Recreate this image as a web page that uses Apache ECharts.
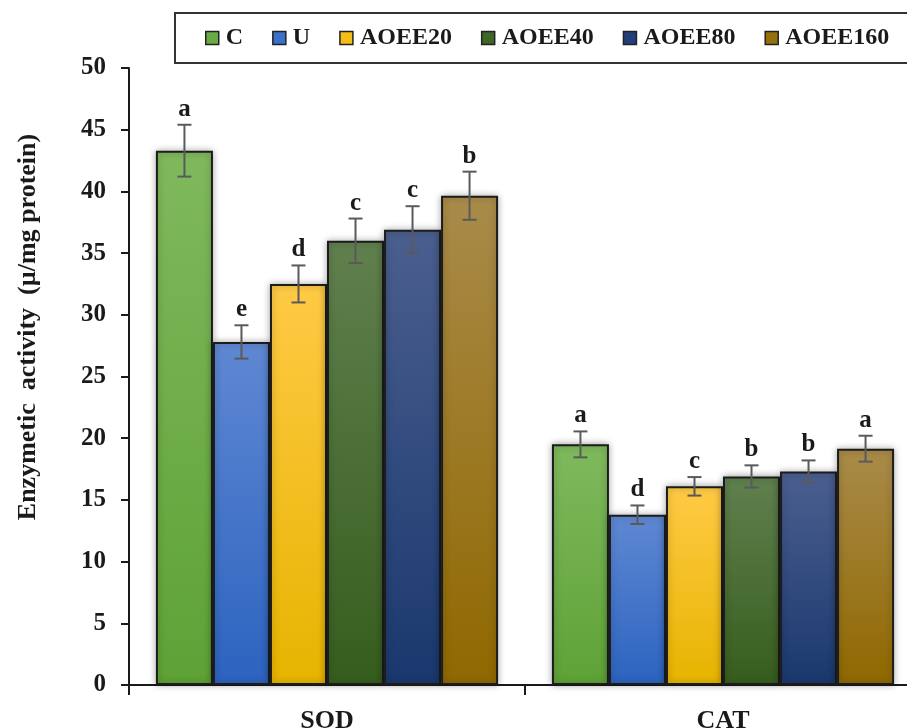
<!DOCTYPE html>
<html>
<head>
<meta charset="utf-8">
<script src="https://cdn.jsdelivr.net/npm/echarts@6/dist/echarts.min.js"></script>
<style>
  html, body { margin: 0; padding: 0; background: #fff; }
  #chart { width: 907px; height: 728px; }
</style>
</head>
<body>
<div id="chart"></div>
<script>
// Enzyme activity per treatment group
const categories = ['SOD', 'CAT'];
const groups = ['C', 'U', 'AOEE20', 'AOEE40', 'AOEE80', 'AOEE160'];
const meanSOD = [43.3, 27.8, 32.5, 36.0, 36.9, 39.65];
const sdSOD = [2.1, 1.35, 1.5, 1.8, 1.9, 1.95];
const meanCAT = [19.5, 13.8, 16.1, 16.9, 17.3, 19.15];
const sdCAT = [1.05, 0.75, 0.75, 0.9, 0.9, 1.05];
const lettersSOD = ['a', 'e', 'd', 'c', 'c', 'b'];
const lettersCAT = ['a', 'd', 'c', 'b', 'b', 'a'];
const yTicks = [0, 5, 10, 15, 20, 25, 30, 35, 40, 45, 50];

// fill gradients (top colour, bottom colour) and flat legend colour
const topColors = ['#7fb95d', '#5f88d3', '#ffca45', '#60804e', '#4b5f8f', '#a98b4a'];
const bottomColors = ['#5ea236', '#2c63bf', '#e6b400', '#365d1d', '#1a386e', '#906800'];
const legendColors = ['#6aaa45', '#3b6fc8', '#f5bd18', '#3f6527', '#233f77', '#956f0a'];

const FONT = '"Liberation Serif", "Times New Roman", serif';
const CAT_GAP = 0.136;

const chart = echarts.init(document.getElementById('chart'));

const barSeries = groups.map((g, i) => ({
  name: g,
  type: 'bar',
  barGap: '0%',
  barCategoryGap: (CAT_GAP * 100) + '%',
  data: [meanSOD[i], meanCAT[i]],
  itemStyle: {
    color: new echarts.graphic.LinearGradient(0, 0, 0, 1, [
      { offset: 0, color: topColors[i] },
      { offset: 1, color: bottomColors[i] }
    ]),
    borderColor: '#1c1c1c',
    borderWidth: 2,
    shadowBlur: 7,
    shadowColor: 'rgba(0,0,0,0.35)'
  },
  z: 2
}));

// error bars and significance letters, one item per bar
const errData = [];
const errLetters = [];
groups.forEach((g, i) => {
  errData.push([0, i, meanSOD[i], sdSOD[i]]);
  errLetters.push(lettersSOD[i]);
  errData.push([1, i, meanCAT[i], sdCAT[i]]);
  errLetters.push(lettersCAT[i]);
});

function renderErr(params, api) {
  const cat = api.value(0);
  const gi = api.value(1);
  const mean = api.value(2);
  const sd = api.value(3);
  const band = api.size([1, 0])[0];
  const groupW = band * (1 - CAT_GAP);
  const bw = groupW / groups.length;
  const c = api.coord([cat, mean]);
  const x = c[0] - groupW / 2 + (gi + 0.5) * bw;
  const yTop = api.coord([cat, mean + sd])[1];
  const yBot = api.coord([cat, mean - sd])[1];
  const cap = 7;
  const st = { stroke: '#5a5a5a', lineWidth: 2 };
  return {
    type: 'group',
    children: [
      { type: 'line', shape: { x1: x, y1: yTop, x2: x, y2: yBot }, style: st },
      { type: 'line', shape: { x1: x - cap, y1: yTop, x2: x + cap, y2: yTop }, style: st },
      { type: 'line', shape: { x1: x - cap, y1: yBot, x2: x + cap, y2: yBot }, style: st },
      {
        type: 'text',
        x: x, y: yTop - 3,
        style: {
          text: errLetters[params.dataIndex],
          font: 'bold 25px ' + FONT,
          fill: '#1a1a1a',
          textAlign: 'center',
          textVerticalAlign: 'bottom'
        }
      }
    ]
  };
}

chart.setOption({
  animation: false,
  backgroundColor: '#fff',
  grid: { left: 129, top: 68, height: 617, right: -14, containLabel: false, outerBoundsMode: 'none' },
  legend: {
    left: 175,
    top: 13,
    width: 1000,
    orient: 'horizontal',
    padding: [13, 40, 13, 30],
    itemGap: 29,
    itemWidth: 13,
    itemHeight: 13,
    borderColor: '#333',
    borderWidth: 2,
    borderRadius: 0,
    icon: 'rect',
    textStyle: { fontFamily: FONT, fontWeight: 'bold', fontSize: 24, color: '#1a1a1a', padding: [0, 0, 0, 2] },
    data: groups.map((g, i) => ({
      name: g,
      itemStyle: { color: legendColors[i], borderColor: '#222', borderWidth: 1.5, shadowBlur: 0 }
    }))
  },
  xAxis: {
    type: 'category',
    data: categories,
    axisLine: { lineStyle: { color: '#1a1a1a', width: 2 } },
    axisTick: { show: true, length: 10, inside: false, lineStyle: { color: '#1a1a1a', width: 2 } },
    axisLabel: { fontFamily: FONT, fontWeight: 'bold', fontSize: 26, color: '#1a1a1a', margin: 23 }
  },
  yAxis: {
    type: 'value',
    min: yTicks[0],
    max: yTicks[yTicks.length - 1],
    interval: yTicks[1] - yTicks[0],
    splitLine: { show: false },
    axisLine: { show: true, lineStyle: { color: '#1a1a1a', width: 2 } },
    axisTick: { show: true, length: 8, inside: false, lineStyle: { color: '#1a1a1a', width: 2 } },
    axisLabel: { fontFamily: FONT, fontWeight: 'bold', fontSize: 25, color: '#1a1a1a', margin: 23 }
  },
  graphic: [{
    type: 'text',
    x: 28,
    y: 327,
    rotation: Math.PI / 2,
    style: {
      text: 'Enzymetic  activity  (µ/mg protein)',
      font: 'bold 26px ' + FONT,
      fill: '#1a1a1a',
      textAlign: 'center',
      textVerticalAlign: 'middle'
    }
  }],
  series: barSeries.concat([{
    type: 'custom',
    name: 'err',
    renderItem: renderErr,
    data: errData,
    encode: { x: 0, y: 2 },
    z: 5
  }])
});
</script>
</body>
</html>
